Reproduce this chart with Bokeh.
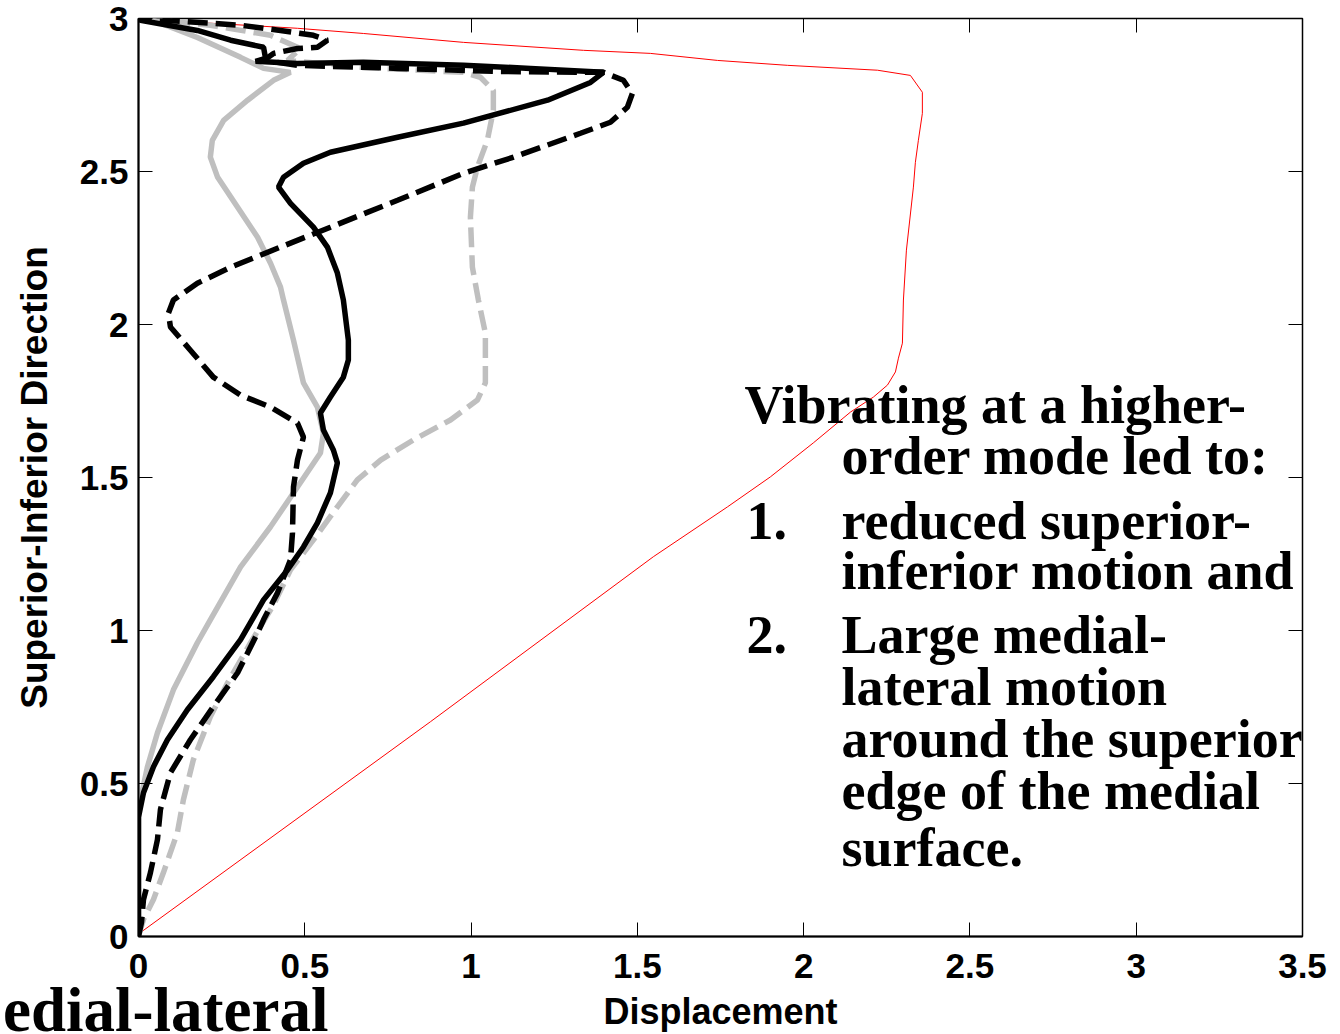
from bokeh.plotting import figure
from bokeh.models import LinearAxis, FixedTicker, Label, Title
from bokeh.embed import file_html
from bokeh.resources import INLINE

# ---------------- data ----------------
x_ticks = [0, 0.5, 1, 1.5, 2, 2.5, 3, 3.5]
x_tick_labels = ["0", "0.5", "1", "1.5", "2", "2.5", "3", "3.5"]
y_ticks = [0, 0.5, 1, 1.5, 2, 2.5, 3]
y_tick_labels = ["0", "0.5", "1", "1.5", "2", "2.5", "3"]

red_x = [0, 0.006, 0.878, 1.548, 1.771, 1.900, 2.029, 2.141, 2.210, 2.252, 2.276, 2.285,
         2.297, 2.300, 2.309, 2.330, 2.336, 2.345, 2.357, 2.357, 2.321, 2.222, 1.951,
         1.741, 1.539, 1.338, 0.977, 0.677, 0.478, 0.226, 0]
red_y = [0, 0.013, 0.702, 1.241, 1.404, 1.502, 1.613, 1.714, 1.763, 1.802, 1.845, 1.890,
         1.939, 2.080, 2.243, 2.449, 2.530, 2.602, 2.690, 2.759, 2.814, 2.831, 2.847,
         2.863, 2.886, 2.896, 2.922, 2.951, 2.968, 2.984, 3.0]

gray_solid_x = [0, 0, 0.006, 0.027, 0.057, 0.105, 0.177, 0.216, 0.307, 0.397, 0.478, 0.547,
                0.556, 0.538, 0.496, 0.466, 0.436, 0.427, 0.397, 0.358, 0.298, 0.238, 0.216,
                0.222, 0.256, 0.328, 0.406, 0.457, 0.376, 0.307, 0.177, 0.045, 0]
gray_solid_y = [0, 0.40, 0.447, 0.555, 0.666, 0.806, 0.960, 1.035, 1.208, 1.339, 1.469, 1.580,
                1.645, 1.730, 1.809, 1.949, 2.080, 2.122, 2.200, 2.285, 2.383, 2.481, 2.547,
                2.602, 2.667, 2.733, 2.798, 2.824, 2.837, 2.873, 2.938, 2.994, 3.0]

gray_dash_x = [0, 0.015, 0.045, 0.075, 0.117, 0.135, 0.165, 0.216, 0.268, 0.337, 0.406, 0.457,
               0.526, 0.598, 0.658, 0.728, 0.827, 0.938, 1.019, 1.043, 1.043, 1.022, 1.004,
               0.998, 1.004, 1.019, 1.049, 1.067, 1.067, 1.028, 0.977, 0.676, 0.448, 0.487,
               0.397, 0.216, 0]
gray_dash_y = [0, 0.056, 0.121, 0.209, 0.340, 0.447, 0.578, 0.718, 0.829, 0.960, 1.084, 1.198,
               1.296, 1.404, 1.492, 1.557, 1.623, 1.688, 1.753, 1.809, 1.972, 2.080, 2.187,
               2.351, 2.449, 2.514, 2.602, 2.700, 2.765, 2.808, 2.824, 2.840, 2.863, 2.902,
               2.945, 2.978, 3.0]

black_solid_x = [0, 0, 0.015, 0.045, 0.087, 0.147, 0.225, 0.307, 0.376, 0.448, 0.496, 0.538,
                 0.577, 0.598, 0.586, 0.556, 0.547, 0.577, 0.616, 0.631, 0.631, 0.616, 0.598,
                 0.568, 0.526, 0.457, 0.421, 0.436, 0.496, 0.577, 0.779, 0.977, 1.230, 1.359,
                 1.398, 1.179, 0.977, 0.676, 0.478, 0.352, 0.382, 0.376, 0.277, 0.177, 0.006, 0]
black_solid_y = [0, 0.39, 0.470, 0.555, 0.643, 0.741, 0.849, 0.970, 1.100, 1.198, 1.273, 1.352,
                 1.450, 1.548, 1.590, 1.655, 1.711, 1.763, 1.828, 1.884, 1.949, 2.080, 2.168,
                 2.253, 2.318, 2.396, 2.449, 2.481, 2.527, 2.563, 2.612, 2.658, 2.733, 2.791,
                 2.824, 2.837, 2.847, 2.857, 2.853, 2.860, 2.870, 2.906, 2.929, 2.961, 2.994, 3.0]

black_dash_x = [0, 0.009, 0.015, 0.036, 0.057, 0.066, 0.096, 0.156, 0.225, 0.298, 0.358, 0.376,
                0.418, 0.457, 0.463, 0.466, 0.478, 0.496, 0.478, 0.397, 0.307, 0.225, 0.156,
                0.096, 0.090, 0.105, 0.177, 0.277, 0.427, 0.577, 0.779, 0.977, 1.128, 1.329,
                1.419, 1.470, 1.485, 1.458, 1.398, 1.079, 0.779, 0.478, 0.376, 0.406, 0.478,
                0.538, 0.568, 0.526, 0.427, 0.307, 0.226, 0]
black_dash_y = [0, 0.046, 0.121, 0.209, 0.317, 0.415, 0.535, 0.643, 0.751, 0.862, 0.992, 1.035,
                1.123, 1.231, 1.319, 1.469, 1.557, 1.632, 1.678, 1.730, 1.769, 1.828, 1.916,
                1.992, 2.037, 2.080, 2.135, 2.187, 2.253, 2.318, 2.406, 2.494, 2.547, 2.625,
                2.661, 2.710, 2.755, 2.798, 2.824, 2.827, 2.837, 2.847, 2.863, 2.886, 2.902,
                2.906, 2.929, 2.945, 2.961, 2.978, 2.984, 3.0]

annotation_lines = [
    "Vibrating at a higher-",
    "order mode led to:",
    "1.",
    "reduced superior-",
    "inferior motion and",
    "2.",
    "Large medial-",
    "lateral motion",
    "around the superior",
    "edge of the medial",
    "surface.",
]
corner_caption = "edial-lateral"

# ---------------- figure ----------------
p = figure(width=1340, height=1034, x_range=(0, 3.5), y_range=(0, 3),
           output_backend="svg", toolbar_location=None,
           min_border_left=138, min_border_right=38, min_border_top=18, min_border_bottom=97)
p.background_fill_color = "white"
p.border_fill_color = "white"
p.grid.visible = False
p.outline_line_color = "black"
p.outline_line_width = 1.5

x_fmt = {t: l for t, l in zip(x_ticks, x_tick_labels)}
y_fmt = {t: l for t, l in zip(y_ticks, y_tick_labels)}

for ax, ticks, fmt in ((p.xaxis[0], x_ticks, x_fmt), (p.yaxis[0], y_ticks, y_fmt)):
    ax.ticker = FixedTicker(ticks=ticks)
    ax.major_label_overrides = fmt
    ax.major_tick_in = 14
    ax.major_tick_out = 0
    ax.major_tick_line_color = "black"
    ax.major_tick_line_width = 1
    ax.minor_tick_line_color = None
    ax.axis_line_color = "black"
    ax.axis_line_width = 2
    ax.major_label_text_font = "Liberation Sans"
    ax.major_label_text_font_style = "bold"
    ax.major_label_text_font_size = "35px"
    ax.major_label_text_color = "black"
    ax.axis_label_text_font = "Liberation Sans"
    ax.axis_label_text_font_style = "bold"
    ax.axis_label_text_color = "black"

p.xaxis.axis_label = "Displacement"
p.yaxis.axis_label = "Superior-Inferior Direction"
p.xaxis.axis_label_text_font_size = "36px"
p.yaxis.axis_label_text_font_size = "37px"
p.xaxis.major_label_standoff = 17
p.xaxis.axis_label_standoff = 10
p.yaxis.major_label_standoff = 10
p.yaxis.axis_label_standoff = 22

# box ticks on the top and right sides (no labels there)
for loc, ticks in (("right", y_ticks), ("above", x_ticks)):
    ax2 = LinearAxis(ticker=FixedTicker(ticks=ticks),
                     major_label_overrides={t: "" for t in ticks},
                     major_label_text_font_size="1px",
                     major_label_standoff=0, major_tick_in=14, major_tick_out=0,
                     major_tick_line_color="black", minor_tick_line_color=None,
                     axis_line_color=None)
    p.add_layout(ax2, loc)

# ---------------- curves ----------------
p.line(red_x, red_y, line_color="#ff0000", line_width=1)
p.line(gray_solid_x, gray_solid_y, line_color="#bfbfbf", line_width=5.5)
p.line(gray_dash_x, gray_dash_y, line_color="#bfbfbf", line_width=5.5, line_dash="20 8")
p.line(black_solid_x, black_solid_y, line_color="black", line_width=5.5)
p.line(black_dash_x, black_dash_y, line_color="black", line_width=5.5, line_dash="20 8")

# ---------------- annotation text ----------------
ann_x = [1.822, 2.114, 1.828, 2.114, 2.114, 1.828, 2.114, 2.114, 2.114, 2.114, 2.114]
ann_y = [1.737, 1.570, 1.358, 1.358, 1.193, 0.985, 0.985, 0.816, 0.647, 0.477, 0.290]
for t, xx, yy in zip(annotation_lines, ann_x, ann_y):
    p.add_layout(Label(x=xx, y=yy, text=t, text_font="Liberation Serif",
                       text_font_style="bold", text_font_size="54px",
                       text_color="black", text_baseline="alphabetic", text_align="left"))

# caption at the lower-left corner, outside the frame (negative standoff keeps the border size)
p.add_layout(Title(text=corner_caption, text_font="Liberation Serif", text_font_style="bold",
                   text_font_size="63px", text_color="black", align="right", offset=974,
                   vertical_align="top", standoff=-120), "below")

open("out.html", "w").write(file_html(p, INLINE))
